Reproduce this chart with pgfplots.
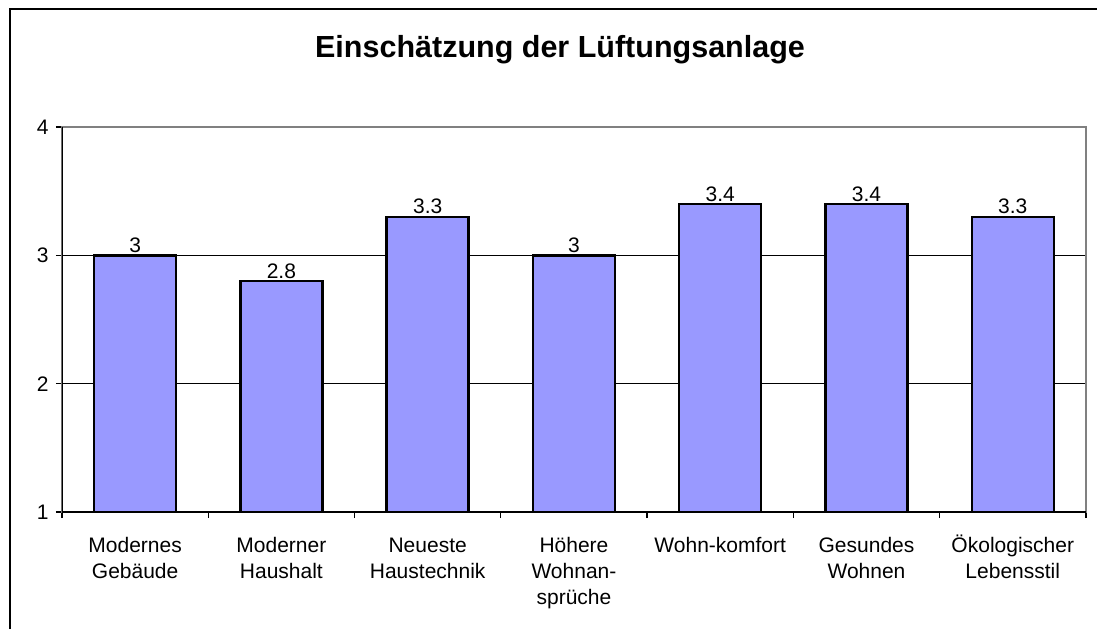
\documentclass[border=0pt]{standalone}
\usepackage{fontspec}
\setmainfont{Liberation Sans}
\usepackage{pgfplots}
\pgfplotsset{compat=1.18}
\definecolor{barblue}{HTML}{9999FF}
\definecolor{framegray}{HTML}{808080}
\begin{document}
\begin{tikzpicture}[x=1pt,y=1pt]
\useasboundingbox (-62,-117) rectangle (1035,512);
\draw[line width=1.8pt] (-52,-117) -- (-52,503) -- (1035,503);
\node[font=\fontsize{30.5}{36}\selectfont\bfseries, anchor=base, inner sep=0pt] at (498,454) {Einschätzung der Lüftungsanlage};
\begin{axis}[
  at={(0pt,0pt)}, anchor=south west,
  scale only axis, width=1024pt, height=385pt,
  xmin=-0.5, xmax=6.5, ymin=1, ymax=4,
  ybar, bar width=82pt,
  ytick={1,2,3,4},
  xtick={0,...,6},
  xticklabels={{\strut Modernes\\Gebäude},{\strut Moderner\\Haushalt},{\strut Neueste\\Haustechnik},{\strut Höhere\\Wohnan-\\sprüche},{\strut Wohn-komfort},{\strut Gesundes\\Wohnen},{\strut Ökologischer\\Lebensstil}},
  minor xtick={-0.5,0.5,...,6.5},
  major x tick style={draw=none},
  tick align=outside, xtick pos=left, ytick pos=left,
  major tick length=6pt, minor tick length=6pt,
  tick style={black, line width=1.2pt},
  ymajorgrids, grid style={black, line width=1pt},
  axis line style={draw=framegray, line width=2pt},
  xticklabel style={font=\fontsize{21}{26}\selectfont, align=center, anchor=north, inner sep=0pt, yshift=-16pt},
  yticklabel style={font=\fontsize{21}{26}\selectfont, xshift=-4pt},
  /pgf/number format/assume math mode=true,
  nodes near coords,
  every node near coord/.append style={font=\fontsize{21}{26}\selectfont, anchor=base, yshift=3pt, inner sep=0pt},
]
\addplot[fill=barblue, draw=black, line width=2.5pt] coordinates {(0,3) (1,2.8) (2,3.3) (3,3) (4,3.4) (5,3.4) (6,3.3)};
\draw[black, line width=2pt] (rel axis cs:0,1) -- (rel axis cs:0,0) -- (rel axis cs:1,0);
\end{axis}
\end{tikzpicture}
\end{document}
